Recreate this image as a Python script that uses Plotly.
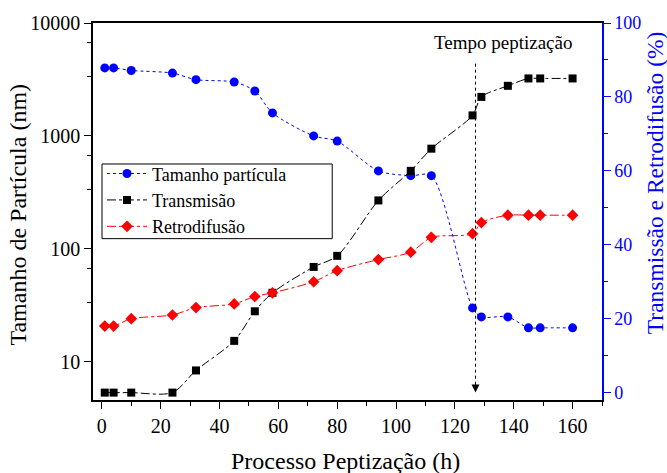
import plotly.graph_objects as go

# ---- data ----
tempo_h = [1, 4, 10, 24, 32, 45, 52, 58, 72, 80, 94, 105, 112, 126, 129, 138, 145, 149, 160]
tamanho_nm = [4000, 4000, 3800, 3600, 3150, 3000, 2500, 1600, 1000, 900, 490, 445, 445, 30, 25, 25, 20, 20, 20]
transmissao_pct = [0, 0, 0, 0, 6, 14, 22, 27, 34, 37, 52, 60, 66, 75, 80, 83, 85, 85, 85]
retrodifusao_pct = [18, 18, 20, 21, 23, 24, 26, 27, 30, 33, 36, 38, 42, 43, 46, 48, 48, 48, 48]

nomes = ["Tamanho partícula", "Transmisão", "Retrodifusão"]
tempo_peptizacao = 127

x_ticks = [0, 20, 40, 60, 80, 100, 120, 140, 160]
left_ticks = [10, 100, 1000, 10000]
left_minor = [33.6, 67.3, 336, 673, 3360, 6730]
right_ticks = [0, 20, 40, 60, 80, 100]

FONT = "Liberation Serif, Times New Roman, serif"
BLUE = "#0000ff"
RED = "#ff0000"

fig = go.Figure()
fig.add_trace(go.Scatter(
    x=tempo_h, y=tamanho_nm, name=nomes[0], mode="lines+markers",
    line=dict(color=BLUE, width=1, dash="dot", shape="spline", smoothing=0.8),
    marker=dict(symbol="circle", size=9, color=BLUE), yaxis="y"))
fig.add_trace(go.Scatter(
    x=tempo_h, y=transmissao_pct, name=nomes[1], mode="lines+markers",
    line=dict(color="black", width=1, dash="dashdot", shape="spline", smoothing=0.8),
    marker=dict(symbol="square", size=8, color="black"), yaxis="y2"))
fig.add_trace(go.Scatter(
    x=tempo_h, y=retrodifusao_pct, name=nomes[2], mode="lines+markers",
    line=dict(color=RED, width=1, dash="dashdot", shape="spline", smoothing=0.8),
    marker=dict(symbol="diamond", size=9, color=RED), yaxis="y2"))

# dotted arrow marking peptization time
fig.add_shape(type="line", xref="x", yref="y2", x0=tempo_peptizacao, x1=tempo_peptizacao,
              y0=89, y1=2.5, line=dict(color="black", width=1, dash="dot"))
fig.add_annotation(x=tempo_peptizacao, y=0, xref="x", yref="y2", ax=0, ay=-12,
                   showarrow=True, arrowhead=2, arrowsize=1.6, arrowwidth=1,
                   arrowcolor="black", text="")
fig.add_annotation(text="Tempo peptização", xref="paper", yref="paper", x=0.8055, y=0.947,
                   showarrow=False, font=dict(family=FONT, size=19, color="black"),
                   xanchor="center", yanchor="middle")

# legend frame
fig.add_shape(type="rect", xref="paper", yref="paper", x0=0.0177, x1=0.470, y0=0.428, y1=0.626,
              line=dict(color="black", width=1), fillcolor="rgba(0,0,0,0)", layer="above")

# axis titles as annotations for exact placement
fig.add_annotation(text="Tamanho de Partícula (nm)", xref="paper", yref="paper", x=0, y=0.492,
                   xshift=-75, textangle=-90, showarrow=False,
                   font=dict(family=FONT, size=24, color="black"),
                   xanchor="center", yanchor="middle")
fig.add_annotation(text="Transmissão e Retrodifusão (%)", xref="paper", yref="paper", x=1, y=0.575,
                   xshift=53, textangle=-90, showarrow=False,
                   font=dict(family=FONT, size=23.5, color=BLUE),
                   xanchor="center", yanchor="middle")
fig.add_annotation(text="Processo Peptização (h)", xref="paper", yref="paper", x=0.5, y=0,
                   yshift=-61, xshift=-2, showarrow=False,
                   font=dict(family=FONT, size=24, color="black"),
                   xanchor="center", yanchor="middle")

fig.update_layout(
    width=667, height=473,
    margin=dict(l=93, r=65, t=21, b=73, pad=0),
    paper_bgcolor="white", plot_bgcolor="white",
    font=dict(family=FONT, color="black"),
    showlegend=True,
    legend=dict(x=0.0177, y=0.649, xanchor="left", yanchor="top",
                borderwidth=0, bgcolor="rgba(255,255,255,0)",
                font=dict(family=FONT, size=18), itemwidth=40,
                tracegroupgap=0),
    xaxis=dict(range=[-3, 170], tickmode="array", tickvals=x_ticks,
               showgrid=False, zeroline=False, showline=True, linecolor="black",
               linewidth=1.5, mirror=True, ticks="outside", ticklen=7, tickwidth=1.2,
               tickcolor="black", tickfont=dict(family=FONT, size=20),
               minor=dict(tickvals=[10, 30, 50, 70, 90, 110, 130, 150, 170], ticks="outside",
                          ticklen=4, tickcolor="black", showgrid=False)),
    yaxis=dict(type="log", range=[0.662, 4], tickmode="array", tickvals=left_ticks,
               ticktext=[str(v) for v in left_ticks],
               showgrid=False, zeroline=False, showline=True, linecolor="black",
               linewidth=1.5, ticks="outside", ticklen=7, tickwidth=1.2, tickcolor="black",
               tickfont=dict(family=FONT, size=20),
               minor=dict(tickvals=left_minor, ticks="outside", ticklen=4,
                          tickcolor="black", showgrid=False)),
    yaxis2=dict(overlaying="y", side="right", range=[-2, 100], tickmode="array",
                tickvals=right_ticks, showgrid=False, zeroline=False, showline=True,
                linecolor=BLUE, linewidth=1.5, ticks="outside", ticklen=7, tickwidth=1.2,
                tickcolor=BLUE, tickfont=dict(family=FONT, size=18, color=BLUE),
                minor=dict(tickvals=[10, 30, 50, 70, 90], ticks="outside", ticklen=4,
                           tickcolor=BLUE, showgrid=False)),
)

fig.write_html("out.html")
